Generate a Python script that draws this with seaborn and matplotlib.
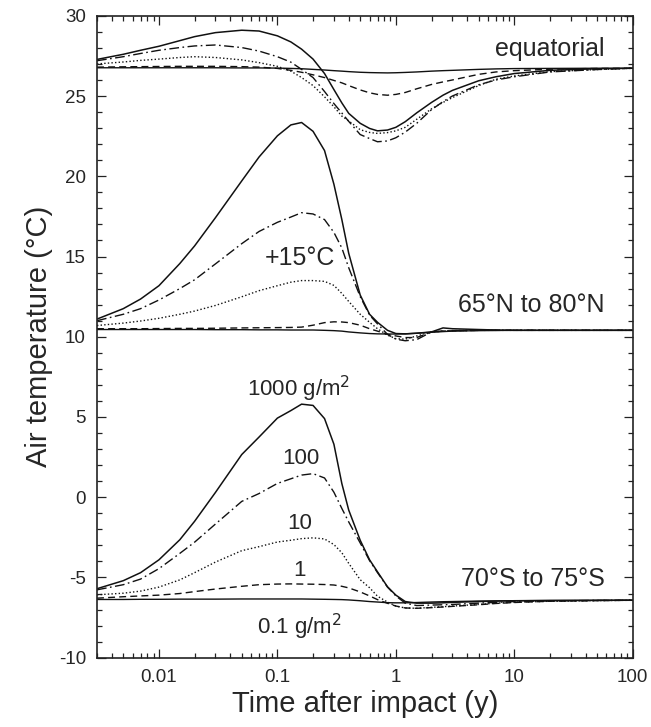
import seaborn as sns
import matplotlib
matplotlib.use("Agg")
import matplotlib.pyplot as plt
from matplotlib.ticker import FixedLocator, LogLocator, NullFormatter

sns.set_style("ticks")
plt.rcParams['font.family'] = ['Liberation Sans', 'DejaVu Sans']
plt.rcParams['axes.unicode_minus'] = False

# time after impact (years), shared by every curve
t = [0.003, 0.005, 0.007, 0.01, 0.015, 0.02, 0.03, 0.05, 0.07, 0.1, 0.13, 0.16,
     0.2, 0.25, 0.3, 0.35, 0.4, 0.5, 0.6, 0.7, 0.85, 1.0, 1.2, 1.5, 2, 2.5, 3,
     5, 7, 10, 20, 50, 100]

# equatorial
eq_1000 = [27.28, 27.6, 27.85, 28.1, 28.45, 28.7, 28.95, 29.1, 29.05, 28.75, 28.37, 27.92,
           27.3, 26.4, 25.4, 24.57, 23.92, 23.3, 22.98, 22.83, 22.88, 23.05, 23.4, 23.95,
           24.6, 25.05, 25.35, 25.95, 26.2, 26.4, 26.6, 26.7, 26.73]
eq_100 = [27.2, 27.45, 27.65, 27.85, 28.02, 28.12, 28.18, 28.02, 27.8, 27.45, 27.11, 26.66,
          26.15, 25.28, 24.53, 23.94, 23.42, 22.6, 22.35, 22.15, 22.2, 22.4, 22.75, 23.3,
          24.15, 24.65, 25.0, 25.7, 26.0, 26.2, 26.5, 26.65, 26.73]
eq_10 = [27.0, 27.12, 27.22, 27.3, 27.4, 27.45, 27.4, 27.25, 27.08, 26.85, 26.55, 26.15,
         25.65, 24.95, 24.33, 23.75, 23.45, 22.9, 22.73, 22.67, 22.72, 22.83, 23.05, 23.55,
         24.2, 24.6, 24.9, 25.65, 26.05, 26.25, 26.52, 26.65, 26.73]
eq_1 = [26.8, 26.82, 26.83, 26.84, 26.85, 26.85, 26.85, 26.83, 26.8, 26.72, 26.6, 26.48,
        26.32, 26.15, 25.97, 25.82, 25.65, 25.38, 25.2, 25.1, 25.05, 25.1, 25.22, 25.45,
        25.72, 25.88, 26.0, 26.35, 26.5, 26.58, 26.67, 26.72, 26.73]
eq_01 = [26.76, 26.76, 26.76, 26.76, 26.76, 26.76, 26.76, 26.75, 26.75, 26.74, 26.72, 26.7,
         26.66, 26.62, 26.58, 26.55, 26.52, 26.48, 26.46, 26.45, 26.44, 26.45, 26.47, 26.5,
         26.55, 26.58, 26.6, 26.66, 26.69, 26.71, 26.72, 26.73, 26.73]

# 65N to 80N
nh_1000 = [11.1, 11.75, 12.35, 13.18, 14.56, 15.66, 17.42, 19.71, 21.2, 22.52, 23.2, 23.35,
           22.8, 21.6, 19.5, 17.3, 15.2, 12.6, 11.4, 10.9, 10.4, 10.2, 10.18, 10.22,
           10.3, 10.55, 10.5, 10.45, 10.42, 10.4, 10.4, 10.4, 10.4]
nh_100 = [11.0, 11.4, 11.75, 12.29, 13.0, 13.55, 14.54, 15.8, 16.56, 17.13, 17.46, 17.73,
          17.65, 17.3, 16.5, 15.53, 14.3, 12.5, 11.35, 10.8, 10.15, 9.85, 9.75, 9.82,
          10.3, 10.35, 10.38, 10.4, 10.4, 10.4, 10.4, 10.4, 10.4]
nh_10 = [10.7, 10.85, 10.98, 11.15, 11.4, 11.6, 11.95, 12.49, 12.87, 13.18, 13.4, 13.5,
         13.5, 13.45, 13.2, 12.7, 12.2, 11.4, 10.9, 10.5, 10.1, 9.88, 9.85, 10.05,
         10.3, 10.35, 10.38, 10.4, 10.4, 10.4, 10.4, 10.4, 10.4]
nh_1 = [10.5, 10.5, 10.5, 10.51, 10.52, 10.52, 10.53, 10.55, 10.56, 10.57, 10.58, 10.6,
        10.72, 10.88, 10.93, 10.92, 10.88, 10.72, 10.5, 10.35, 10.15, 10.05, 9.95, 9.95,
        10.3, 10.35, 10.37, 10.4, 10.4, 10.4, 10.4, 10.4, 10.4]
nh_01 = [10.45, 10.45, 10.45, 10.45, 10.45, 10.45, 10.44, 10.44, 10.43, 10.43, 10.42, 10.42,
         10.42, 10.4, 10.38, 10.35, 10.3, 10.24, 10.2, 10.18, 10.17, 10.17, 10.18, 10.22,
         10.28, 10.32, 10.35, 10.38, 10.39, 10.4, 10.4, 10.4, 10.4]

# 70S to 75S
sh_1000 = [-5.7, -5.2, -4.7, -3.9, -2.65, -1.5, 0.3, 2.66, 3.75, 4.93, 5.4, 5.8,
           5.72, 4.9, 3.3, 0.85, -0.8, -2.68, -3.9, -4.65, -5.58, -6.1, -6.5, -6.6,
           -6.6, -6.58, -6.55, -6.5, -6.47, -6.45, -6.43, -6.42, -6.42]
sh_100 = [-5.77, -5.45, -5.1, -4.45, -3.5, -2.8, -1.67, -0.26, 0.23, 0.86, 1.15, 1.38,
          1.47, 1.2, 0.31, -0.7, -1.54, -2.85, -3.95, -4.7, -5.6, -6.15, -6.6, -6.75,
          -6.72, -6.7, -6.68, -6.6, -6.55, -6.5, -6.46, -6.43, -6.42]
sh_10 = [-6.08, -5.98, -5.85, -5.6, -5.15, -4.7, -4.04, -3.33, -3.08, -2.79, -2.68, -2.58,
         -2.53, -2.6, -2.95, -3.46, -4.12, -5.14, -5.64, -6.17, -6.53, -6.78, -6.9, -6.92,
         -6.86, -6.82, -6.78, -6.68, -6.6, -6.55, -6.48, -6.44, -6.42]
sh_1 = [-6.29, -6.2, -6.15, -6.1, -6.0, -5.88, -5.72, -5.55, -5.45, -5.41, -5.4, -5.41,
        -5.42, -5.44, -5.47, -5.55, -5.65, -5.9, -6.15, -6.38, -6.61, -6.78, -6.9, -6.92,
        -6.88, -6.84, -6.8, -6.7, -6.62, -6.56, -6.48, -6.44, -6.42]
sh_01 = [-6.37, -6.37, -6.36, -6.36, -6.35, -6.35, -6.35, -6.34, -6.34, -6.34, -6.34, -6.34,
         -6.35, -6.36, -6.37, -6.38, -6.4, -6.45, -6.5, -6.53, -6.57, -6.58, -6.58, -6.56,
         -6.53, -6.51, -6.5, -6.47, -6.46, -6.45, -6.44, -6.43, -6.42]

# line style per loading (1000, 100, 10, 1, 0.1 g/m2)
styles = ['-', (0, (7, 2.5, 1.2, 2.5)), (0, (1, 1.6)), (0, (5, 3)), '-']
widths = [1.1, 1.0, 1.0, 1.0, 1.0]
groups = [[eq_1000, eq_100, eq_10, eq_1, eq_01],
          [nh_1000, nh_100, nh_10, nh_1, nh_01],
          [sh_1000, sh_100, sh_10, sh_1, sh_01]]

fig = plt.figure(figsize=(6.51, 7.27), dpi=100)
ax = fig.add_axes([0.149, 0.0953, 0.823, 0.883])

for grp in groups:
    for vals, ls, lw in zip(grp, styles, widths):
        sns.lineplot(x=t, y=vals, ax=ax, color='#111111', linestyle=ls, linewidth=lw)

ax.set_xscale('log')
ax.set_xlim(0.003, 100)
ax.set_ylim(-10, 30)
ax.set_xticks([0.01, 0.1, 1, 10, 100])
ax.set_xticklabels(['0.01', '0.1', '1', '10', '100'])
ax.xaxis.set_minor_locator(LogLocator(base=10, subs=range(2, 10)))
ax.xaxis.set_minor_formatter(NullFormatter())
ax.set_yticks(range(-10, 31, 5))
ax.yaxis.set_minor_locator(FixedLocator(range(-10, 31)))

ax.tick_params(which='both', direction='in', top=True, right=True,
               width=0.9, color='#222222', labelsize=13.5, pad=8)
ax.tick_params(which='major', length=6.5)
ax.tick_params(which='minor', length=3.5)
for sp in ax.spines.values():
    sp.set_linewidth(1.2)
    sp.set_color('#222222')

ax.set_xlabel('Time after impact (y)', fontsize=21, labelpad=3)
ax.set_ylabel('Air temperature (°C)', fontsize=21, labelpad=4)

ax.text(58, 27.93, 'equatorial', fontsize=18, ha='right', va='center')
ax.text(58, 11.98, '65°N to 80°N', fontsize=18, ha='right', va='center')
ax.text(58, -5.12, '70°S to 75°S', fontsize=18, ha='right', va='center')
ax.text(0.155, 14.88, '+15°C', fontsize=18, ha='center', va='center')
ax.text(0.152, 6.75, '1000 g/m$^2$', fontsize=16, ha='center', va='center')
ax.text(0.157, 2.42, '100', fontsize=16, ha='center', va='center')
ax.text(0.155, -1.63, '10', fontsize=16, ha='center', va='center')
ax.text(0.153, -4.54, '1', fontsize=16, ha='center', va='center')
ax.text(0.153, -8.07, '0.1 g/m$^2$', fontsize=16, ha='center', va='center')

fig.savefig('out.png', dpi=100)
